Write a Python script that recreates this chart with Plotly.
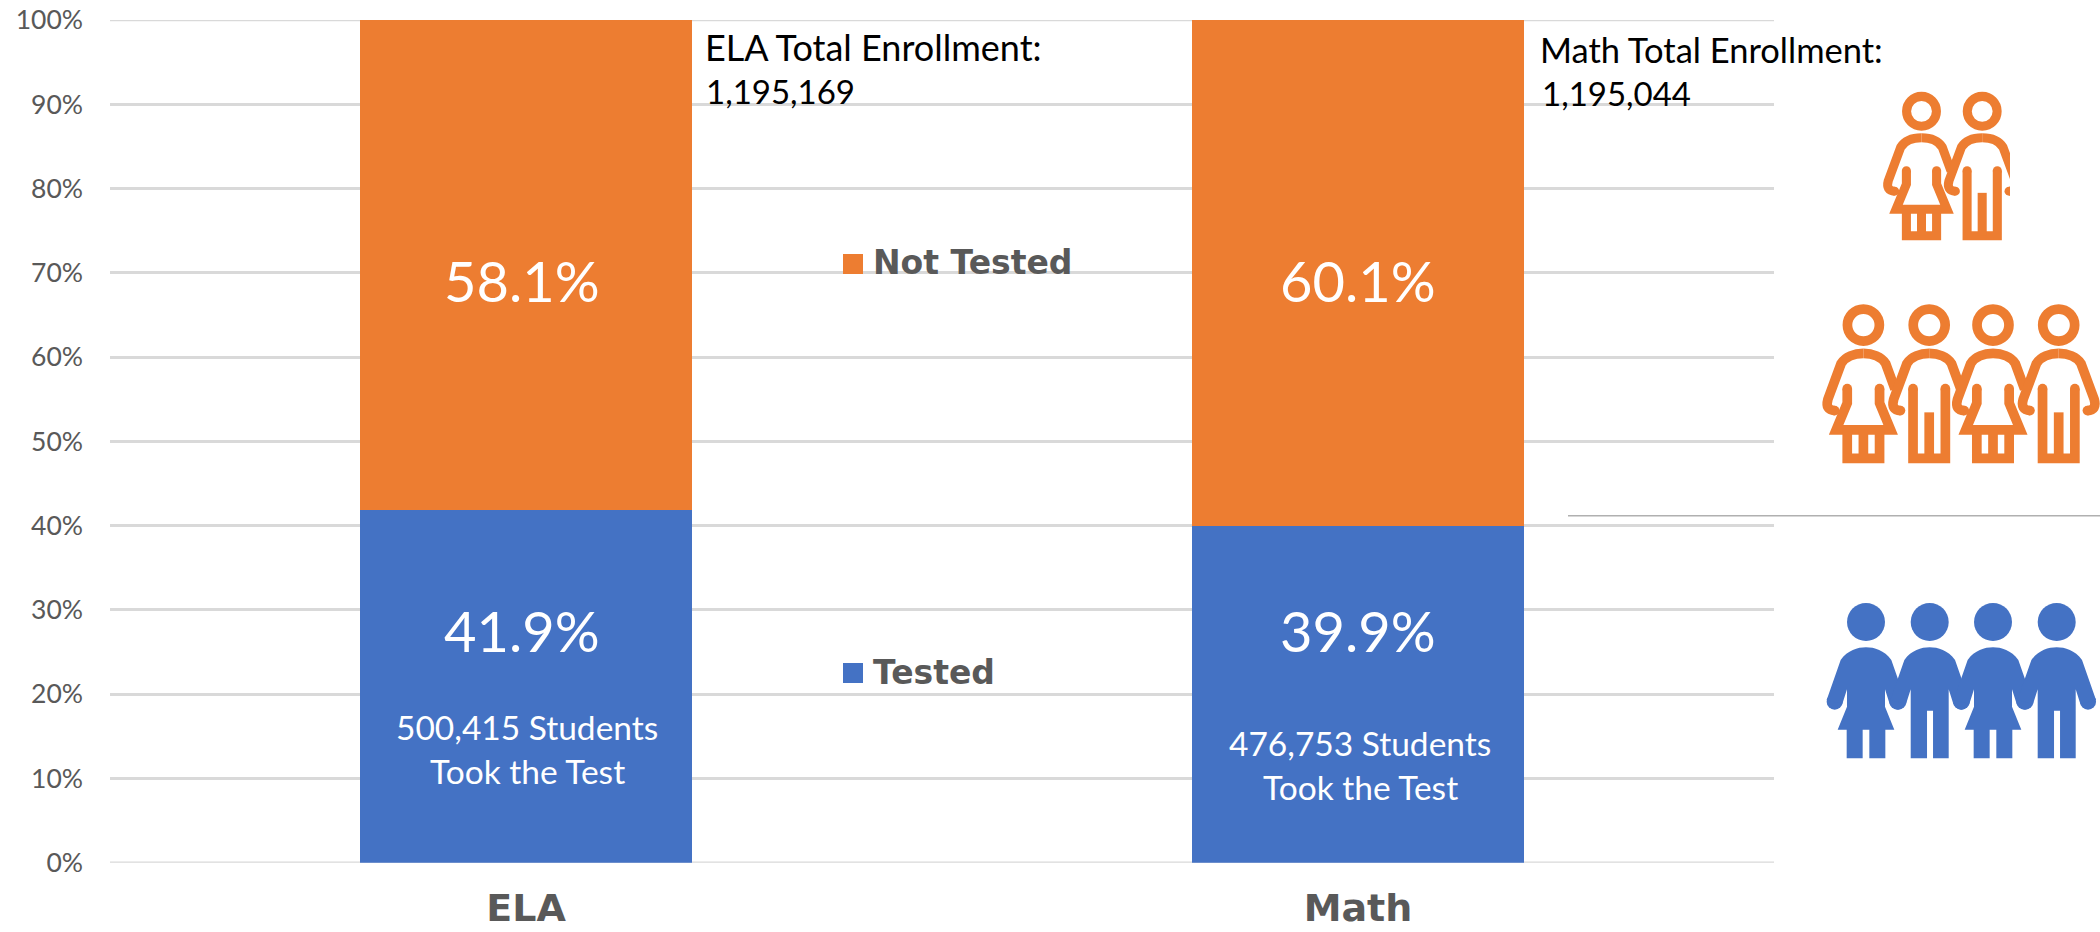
import plotly.graph_objects as go

W, H = 2100, 932
PLOT_L, PLOT_R, PLOT_T, PLOT_B = 110, 1774, 20, 862.7

categories = ["ELA", "Math"]
tested = [41.9, 39.9]
not_tested = [58.1, 60.1]
students = ["500,415", "476,753"]
enrollment = ["1,195,169", "1,195,044"]
y_ticks = [0, 10, 20, 30, 40, 50, 60, 70, 80, 90, 100]

BLUE, ORANGE = "#4472C4", "#ED7D31"
GREY, GRID = "#595959", "#D9D9D9"
FONT = "Lato"
BOLD = "DejaVu Sans"


def X(v):
    return v / W


def Y(v):
    return 1 - v / H


def P(pts):
    """pts: list of command tuples in pixel coordinates."""
    out = []
    for c in pts:
        cmd, vals = c[0], c[1:]
        coords = " ".join(
            f"{X(vals[i]):.5f},{Y(vals[i + 1]):.5f}" for i in range(0, len(vals), 2)
        )
        out.append(f"{cmd}{coords}")
    return " ".join(out)


shapes = []


def path(cmds, line=None, fill=None, width=0):
    s = dict(type="path", xref="paper", yref="paper", path=P(cmds), layer="above")
    s["line"] = dict(color=line, width=width) if line else dict(width=0)
    if fill:
        s["fillcolor"] = fill
    shapes.append(s)


def circle(cx, cy, r, line=None, fill=None, width=0):
    s = dict(type="circle", xref="paper", yref="paper", x0=X(cx - r), x1=X(cx + r),
             y0=Y(cy + r), y1=Y(cy - r), layer="above")
    s["line"] = dict(color=line, width=width) if line else dict(width=0)
    if fill:
        s["fillcolor"] = fill
    shapes.append(s)


def rect(x0, y0, x1, y1, fill):
    shapes.append(dict(type="rect", xref="paper", yref="paper", x0=X(x0), x1=X(x1),
                       y0=Y(y1), y1=Y(y0), fillcolor=fill, line=dict(width=0), layer="above"))


def outline_person(cx, cy, k, female, left_hook, right_hook, color=ORANGE):
    sw = 27 * k
    t = lambda *a: [a[0]] + [cx + a[i] * k if i % 2 == 1 else cy + a[i] * k for i in range(1, len(a))]
    circle(cx, cy, 44.5 * k, line=color, width=sw)
    # shoulders and arms
    path([t("M", 0, 79), t("C", -25, 79, -50, 88, -62, 107), t("L", -99, 207)]
         + ([t("Q", -107, 237, -80, 238)] if left_hook else []), line=color, width=sw)
    path([t("M", 0, 79), t("C", 25, 79, 50, 88, 62, 107), t("L", 99 if right_hook else 88, 207 if right_hook else 178)]
         + ([t("Q", 107, 237, 80, 238)] if right_hook else []), line=color, width=sw)
    if left_hook:
        circle(cx - 80 * k, cy + 238 * k, 13.5 * k, fill=color)
    if right_hook:
        circle(cx + 80 * k, cy + 238 * k, 13.5 * k, fill=color)
    circle(cx - 45 * k, cy + 177 * k, 13.5 * k, fill=color)
    circle(cx + 45 * k, cy + 177 * k, 13.5 * k, fill=color)
    if female:
        path([t("M", -45, 177), t("L", -45, 217), t("L", -76, 292), t("L", 76, 292),
              t("L", 45, 217), t("L", 45, 177)], line=color, width=sw)
        path([t("M", -45, 292), t("L", -45, 371), t("L", 45, 371), t("L", 45, 292)], line=color, width=sw)
        path([t("M", 0, 292), t("L", 0, 371)], line=color, width=sw)
    else:
        path([t("M", -45, 177), t("L", -45, 371), t("L", 45, 371), t("L", 45, 177)], line=color, width=sw)
        path([t("M", 0, 243), t("L", 0, 371)], line=color, width=sw)


def solid_person(cx, cy, k, female, color=BLUE):
    t = lambda *a: [a[0]] + [cx + a[i] * k if i % 2 == 1 else cy + a[i] * k for i in range(1, len(a))]
    circle(cx, cy, 57 * k, fill=color)
    circle(cx - 94 * k, cy + 239 * k, 24 * k, fill=color)
    circle(cx + 94 * k, cy + 239 * k, 24 * k, fill=color)
    head = [t("M", -76, 114), t("C", -55, 85, -25, 76, 0, 76), t("C", 25, 76, 55, 85, 76, 114),
            t("L", 118, 234), t("L", 71, 246), t("L", 57, 202)]
    if female:
        lower = [t("L", 57, 254), t("L", 85, 323), t("L", 58, 323), t("L", 58, 409), t("L", 10, 409),
                 t("L", 10, 323), t("L", -10, 323), t("L", -10, 409), t("L", -58, 409), t("L", -58, 323),
                 t("L", -85, 323), t("L", -57, 254)]
    else:
        lower = [t("L", 57, 409), t("L", 10, 409), t("L", 10, 266), t("L", -8, 266), t("L", -8, 409),
                 t("L", -57, 409)]
    path(head + lower + [t("L", -57, 202), t("L", -71, 246), t("L", -118, 234), ["Z"]], fill=color)


# axis-end gridlines, which the axis itself leaves out at the very ends of its range
for v in (y_ticks[0], y_ticks[-1]):
    shapes.append(dict(type="line", xref="paper", yref="y", x0=X(PLOT_L), x1=X(PLOT_R), y0=v, y1=v,
                       line=dict(color=GRID, width=2.5), layer="below"))

# top pair (clipped on the right, as in the picture)
KT = 1 / 2.98
outline_person(1921.5, 111.3, KT, True, True, False)
outline_person(1982.2, 111.3, KT, False, True, True)
rect(2010, 130, 2040, 220, "white")

# orange group
KG = 1.07 / 2.98
for i, hx in enumerate([1863.4, 1929.2, 1993.0, 2058.7]):
    outline_person(hx, 325.1, KG, i % 2 == 0, True, i == 3)

# blue group
for i, hx in enumerate([1866.0, 1929.7, 1993.0, 2056.7]):
    solid_person(hx, 622.0, 1 / 3, i % 2 == 0)

# divider line
shapes.append(dict(type="line", xref="paper", yref="paper", x0=X(1568), x1=1, y0=Y(515.7), y1=Y(515.7),
                   line=dict(color="#B0B0B0", width=1.5), layer="above"))

# legend swatches
rect(843, 254, 863, 274, ORANGE)
rect(843, 663, 863, 683, BLUE)

fig = go.Figure()
fig.add_bar(name="Tested", x=categories, y=tested, marker=dict(color=BLUE, line=dict(width=0)))
fig.add_bar(name="Not Tested", x=categories, y=not_tested, marker=dict(color=ORANGE, line=dict(width=0)))


def note(text, x, y, size, color, anchor="center", family=FONT):
    fig.add_annotation(text=text, x=X(x), y=Y(y), xref="paper", yref="paper", showarrow=False,
                       xanchor=anchor, yanchor="middle", xshift=0, align="left",
                       font=dict(family=family, size=size, color=color))


centers = [(522, 527), (1358, 1360)]
pct_y_top, pct_y_low = 280, 630
line_ys = [(727, 771), (743, 787)]
for i, cat in enumerate(categories):
    note(f"{not_tested[i]:.1f}%", centers[i][0], pct_y_top, 56, "white")
    note(f"{tested[i]:.1f}%", centers[i][0], pct_y_low, 56, "white")
    note(f"{students[i]} Students", centers[i][1], line_ys[i][0], 33.5, "white")
    note("Took the Test", centers[i][1], line_ys[i][1], 33.5, "white")

note(f"{categories[0]} Total Enrollment:", 703, 47, 36, "black", "left")
note(enrollment[0], 704, 91, 33, "black", "left")
note(f"{categories[1]} Total Enrollment:", 1538, 50, 34.5, "black", "left")
note(enrollment[1], 1540, 93, 33, "black", "left")
note("<b>Not Tested</b>", 871, 262, 33, GREY, "left", BOLD)
note("<b>Tested</b>", 871, 672, 33, GREY, "left", BOLD)

fig.update_layout(
    width=W, height=H, autosize=False,
    margin=dict(l=0, r=0, t=0, b=0, pad=0),
    paper_bgcolor="white", plot_bgcolor="white",
    barmode="stack", bargap=0.6, showlegend=False,
    shapes=shapes,
    xaxis=dict(domain=[X(PLOT_L), X(PLOT_R)], type="category", range=[-0.5, 1.5], automargin=False,
               showgrid=False, zeroline=False, showline=False, ticks="",
               ticklabelstandoff=19,
               tickfont=dict(family=BOLD, size=38, color=GREY, weight="bold")),
    yaxis=dict(domain=[Y(PLOT_B), Y(PLOT_T)], range=[0, 100], tickmode="array", automargin=False,
               tickvals=y_ticks, ticktext=[f"{v}%" for v in y_ticks],
               showgrid=True, gridcolor=GRID, gridwidth=2.5, zeroline=False, showline=False, ticks="",
               ticklabelstandoff=26,
               tickfont=dict(family=FONT, size=26.5, color=GREY)),
)

fig.write_html("out.html", config=dict(displayModeBar=False),
               post_script="document.body.style.margin='0';document.documentElement.style.overflow='hidden';")
